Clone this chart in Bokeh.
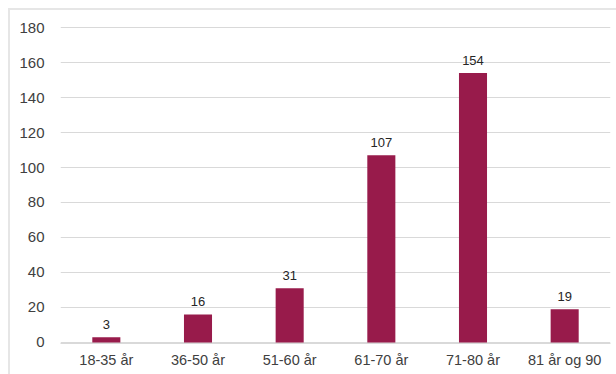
from bokeh.plotting import figure
from bokeh.models import ColumnDataSource, Range1d, FactorRange, LabelSet, FixedTicker
from bokeh.core.properties import value
from bokeh.embed import file_html
from bokeh.resources import INLINE

categories = ["18-35 år", "36-50 år", "51-60 år", "61-70 år", "71-80 år", "81 år og 90"]
counts = [3, 16, 31, 107, 154, 19]
y_ticks = [0, 20, 40, 60, 80, 100, 120, 140, 160, 180]

src = ColumnDataSource(dict(cat=categories, val=counts, lab=[str(v) for v in counts]))

p = figure(
    width=608, height=366,
    x_range=FactorRange(factors=categories, range_padding=0),
    y_range=Range1d(-0.6, 180.6),
    output_backend="svg", toolbar_location=None, title=None,
    min_border_left=50, min_border_right=8, min_border_top=16, min_border_bottom=33,
)
p.margin = (8, 0, 0, 8)
p.styles = {"border-top": "2px solid #e6e6e6", "border-left": "2px solid #e6e6e6"}
p.outline_line_color = None
p.background_fill_color = "white"
p.border_fill_color = "white"

p.vbar(x="cat", top="val", width=0.306, source=src, fill_color="#981B4B", line_color=None)

labels = LabelSet(x="cat", y="val", text="lab", source=src, text_align="center",
                  text_baseline="bottom", y_offset=8, text_font=value("Liberation Sans"),
                  text_font_size=value("13px"), text_color="#262626")
p.add_layout(labels)

p.xgrid.grid_line_color = None
p.ygrid.grid_line_color = "#d9d9d9"
p.ygrid.grid_line_width = 1
p.yaxis.ticker = FixedTicker(ticks=y_ticks)

p.yaxis.axis_line_color = None
p.yaxis.major_tick_line_color = None
p.yaxis.minor_tick_line_color = None
p.yaxis.major_label_standoff = 10
p.yaxis.major_label_text_font = "Liberation Sans"
p.yaxis.major_label_text_font_size = "15px"
p.yaxis.major_label_text_color = "#404040"

p.xaxis.axis_line_color = "#d9d9d9"
p.xaxis.major_tick_line_color = None
p.xaxis.minor_tick_line_color = None
p.xaxis.major_label_standoff = 2
p.xaxis.major_label_text_font = "Liberation Sans"
p.xaxis.major_label_text_font_size = "14.5px"
p.xaxis.major_label_text_color = "#404040"

open("out.html", "w").write(file_html(p, INLINE))
